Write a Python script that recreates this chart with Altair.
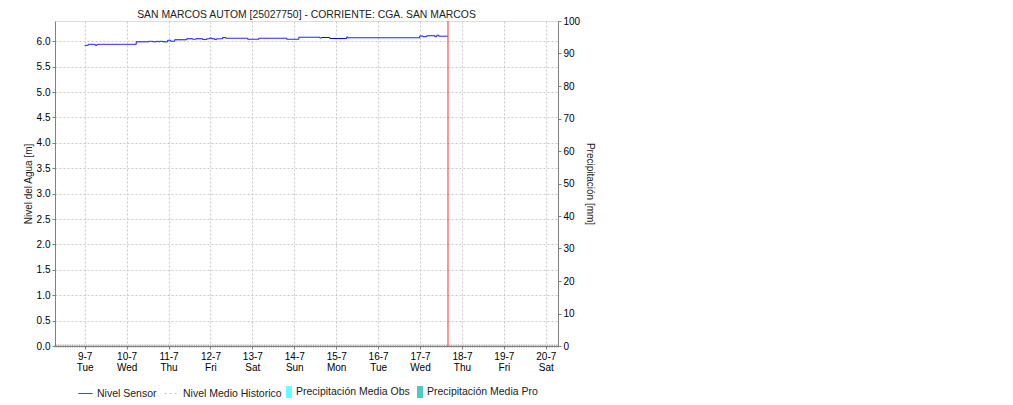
import altair as alt
import pandas as pd

# ---------------- data ----------------
sensor_times = [
    "2024-07-09T00:00", "2024-07-09T02:00", "2024-07-09T06:00", "2024-07-09T07:00",
    "2024-07-10T05:30", "2024-07-10T12:40", "2024-07-10T15:00", "2024-07-10T17:10",
    "2024-07-10T18:20", "2024-07-10T19:00", "2024-07-10T20:40", "2024-07-10T23:30",
    "2024-07-11T01:15", "2024-07-11T03:30", "2024-07-11T10:25", "2024-07-11T13:50",
    "2024-07-11T15:35", "2024-07-11T19:35", "2024-07-11T21:50", "2024-07-11T23:35",
    "2024-07-12T00:45", "2024-07-12T02:30", "2024-07-12T03:35", "2024-07-12T07:00",
    "2024-07-12T08:45", "2024-07-12T21:20", "2024-07-13T03:40", "2024-07-13T19:40",
    "2024-07-14T02:35", "2024-07-14T14:35", "2024-07-14T15:45", "2024-07-14T20:20",
    "2024-07-15T06:00", "2024-07-15T06:40", "2024-07-16T23:50", "2024-07-17T01:35",
    "2024-07-17T03:50", "2024-07-17T08:30", "2024-07-17T09:35", "2024-07-17T10:45",
    "2024-07-17T15:55",
]
sensor_values = [
    5.92, 5.94, 5.92, 5.94,
    5.99, 6.00, 5.99, 6.00,
    5.99, 6.00, 5.99, 6.02,
    6.00, 6.03, 6.05, 6.04,
    6.05, 6.035, 6.05, 6.065,
    6.05, 6.035, 6.05, 6.075,
    6.06, 6.04, 6.06, 6.04,
    6.08, 6.065, 6.075, 6.055,
    6.085, 6.07, 6.105, 6.09,
    6.11, 6.09, 6.12, 6.10,
    6.10,
]
line_series = ["Nivel Sensor", "Nivel Medio Historico"]
line_colors = ["#0000ff", "#c0c0c0"]

precip_series = ["Precipitación Media Obs", "Precipitación Media Pro"]
precip_colors = ["#66ffff", "#4cc9c9"]
precip_times = ["2024-07-09T00:00", "2024-07-10T00:00", "2024-07-11T00:00",
                "2024-07-12T00:00", "2024-07-13T00:00", "2024-07-14T00:00",
                "2024-07-15T00:00", "2024-07-16T00:00", "2024-07-17T00:00"]
precip_values = [0, 0, 0, 0, 0, 0, 0, 0, 0]

current_time = ["2024-07-17T16:00"]
tick_days = [9, 10, 11, 12, 13, 14, 15, 16, 17, 18, 19, 20]
left_ticks = [0.0, 0.5, 1.0, 1.5, 2.0, 2.5, 3.0, 3.5, 4.0, 4.5, 5.0, 5.5, 6.0]
right_ticks = [0, 10, 20, 30, 40, 50, 60, 70, 80, 90, 100]

title_text = "SAN MARCOS AUTOM [25027750] - CORRIENTE: CGA. SAN MARCOS"

# ---------------- tables ----------------
sensor_df = pd.DataFrame({"t": sensor_times, "v": sensor_values, "serie": "Nivel Sensor"})
precip_df = pd.DataFrame({"t": precip_times, "p": precip_values, "serie": precip_series[0]})
now_df = pd.DataFrame({"t": current_time})
hours = pd.date_range("2024-07-08 07:00", "2024-07-20 07:00", freq="h")
hour_df = pd.DataFrame({"t": [h.strftime("%Y-%m-%dT%H:%M") for h in hours], "v": 0.0})

FONT = "Liberation Sans"
GRID = "#c8c8c8"
AXIS = "#808080"

x_enc = alt.X(
    "t:T",
    title=None,
    scale=alt.Scale(
        domain=[alt.DateTime(year=2024, month=7, date=8, hours=7),
                alt.DateTime(year=2024, month=7, date=20, hours=7)],
        nice=False,
        padding=0,
    ),
    axis=alt.Axis(
        values=[alt.DateTime(year=2024, month=7, date=d) for d in tick_days],
        labelExpr="[timeFormat(datum.value, '%-d-%-m'), timeFormat(datum.value, '%a')]",
        labelLineHeight=11,
        labelFontSize=10,
        labelFont=FONT,
        labelColor="#000000",
        labelPadding=2,
        tickSize=3,
        tickColor=AXIS,
        domainColor=AXIS,
        grid=True,
        gridColor=GRID,
        gridDash=[2, 2],
        labelOverlap=False,
    ),
)

y_left = alt.Y(
    "v:Q",
    title="Nivel del Agua [m]",
    scale=alt.Scale(domain=[0, 6.4], nice=False),
    axis=alt.Axis(
        values=left_ticks, format=".1f", labelFontSize=10, labelFont=FONT,
        labelColor="#000000", labelPadding=2, tickSize=3, tickColor=AXIS,
        domainColor=AXIS, grid=True, gridColor=GRID, gridDash=[2, 2],
        labelOverlap=False, labelBound=False, tickCount=13,
        titleFont=FONT, titleFontSize=10, titleFontWeight="normal",
        titleColor="#222222", titlePadding=3,
    ),
)

line_legend = alt.Legend(
    title=None, orient="none", legendX=23, legendY=365, direction="horizontal",
    symbolType="stroke", symbolSize=196, symbolStrokeWidth=1,
    labelFont=FONT, labelFontSize=10.5, labelColor="#222222",
    labelOffset=4, columnPadding=5, padding=0,
)

line = alt.Chart(sensor_df).mark_line(interpolate="step-after", strokeWidth=1).encode(
    x=x_enc,
    y=y_left,
    color=alt.Color(
        "serie:N",
        scale=alt.Scale(domain=line_series, range=line_colors),
        legend=line_legend,
    ),
    strokeDash=alt.StrokeDash(
        "serie:N",
        scale=alt.Scale(domain=line_series, range=[[1, 0], [2, 3]]),
        legend=line_legend,
    ),
)

hour_ticks = alt.Chart(hour_df).mark_tick(
    orient="vertical", size=3, thickness=1, color=AXIS
).encode(x=x_enc, y=y_left)

now_rule = alt.Chart(now_df).mark_rule(color="#ff3030", strokeWidth=1).encode(x=x_enc)

left_layer = alt.layer(line, hour_ticks, now_rule)

precip = alt.Chart(precip_df).mark_bar(size=6).encode(
    x=x_enc,
    y=alt.Y(
        "p:Q",
        title="Precipitación [mm]",
        scale=alt.Scale(domain=[0, 100], nice=False),
        axis=alt.Axis(
            orient="right", values=right_ticks, labelFontSize=10, labelFont=FONT,
            labelColor="#000000", labelPadding=2, tickSize=3, tickColor=AXIS,
            domainColor=AXIS, grid=False, labelOverlap=False,
            titleFont=FONT, titleFontSize=10, titleFontWeight="normal",
            titleColor="#222222", titlePadding=5,
        ),
    ),
    color=alt.Color(
        "serie:N",
        scale=alt.Scale(domain=precip_series, range=precip_colors),
        legend=alt.Legend(
            title=None, orient="none", legendX=228, legendY=365, direction="horizontal",
            symbolType="M-0.5,-1H0.5V1H-0.5Z", symbolSize=144,
            symbolStrokeWidth=0, symbolOpacity=1,
            labelFont=FONT, labelFontSize=10.5, labelColor="#222222",
            labelOffset=1, columnPadding=4, padding=0,
        ),
    ),
)

chart = alt.layer(left_layer, precip).resolve_scale(
    y="independent", color="independent", strokeDash="independent"
).properties(
    width=503,
    height=325,
    autosize=alt.AutoSizeParams(type="none"),
    padding={"left": 47, "top": 13, "right": 440, "bottom": 58},
    title=alt.Title(
        title_text, font=FONT, fontSize=10.4, fontWeight="normal",
        color="#222222", anchor="middle", offset=-4,
    ),
).configure_view(
    stroke=AXIS, strokeWidth=1
).configure(background="white")

chart.save("out.html", embed_options={"renderer": "svg", "actions": False})
